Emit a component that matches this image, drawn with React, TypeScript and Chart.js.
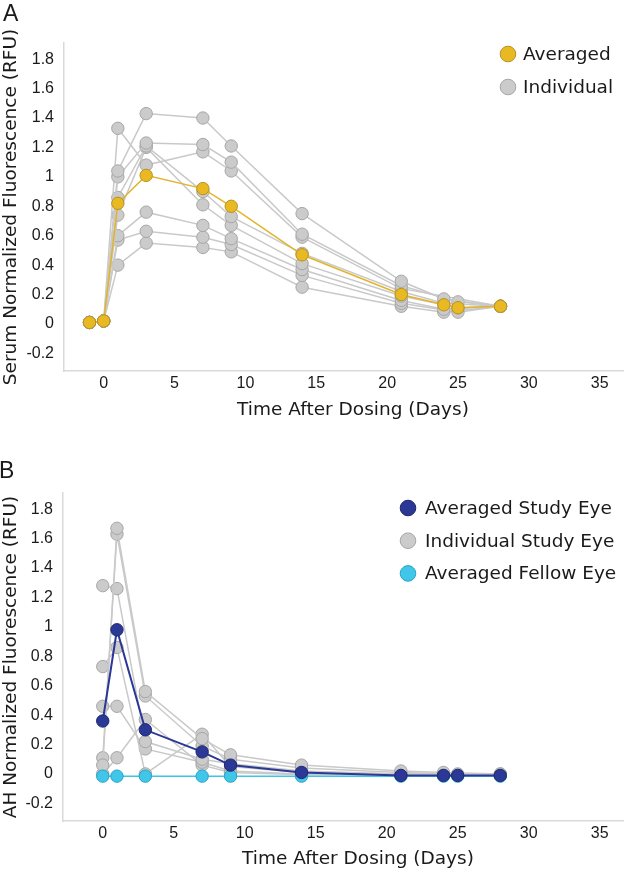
import React, { useEffect, useRef } from 'react';
import { Chart, registerables } from 'chart.js';

Chart.register(...registerables);

// ---------- Panel A: serum ----------
const serumDays = [-1, 0, 1, 3, 7, 9, 14, 21, 24, 25, 28];
const serumAveraged = [0.01, 0.02, 0.82, 1.01, 0.92, 0.8, 0.47, 0.2, 0.13, 0.11, 0.12];
const serumIndividual1 = [0.01, 0.02, 1.04, 1.43, 1.4, 1.21, 0.75, 0.29, 0.17, null, 0.12];
const serumIndividual2 = [0.01, 0.02, 1.0, 1.23, 1.22, 1.1, 0.61, 0.26, null, 0.15, 0.12];
const serumIndividual3 = [0.01, 0.02, 1.33, 1.08, 1.17, 1.04, 0.59, 0.24, null, null, 0.12];
const serumIndividual4 = [0.01, 0.02, 0.86, 1.21, 0.9, 0.73, 0.48, 0.22, 0.14, null, 0.12];
const serumIndividual5 = [0.01, 0.02, 0.74, 1.2, 0.81, 0.67, 0.41, 0.19, null, 0.11, 0.12];
const serumIndividual6 = [0.01, 0.02, 0.6, 0.76, 0.67, 0.58, 0.37, 0.16, 0.1, null, 0.12];
const serumIndividual7 = [0.01, 0.02, 0.57, 0.63, 0.59, 0.54, 0.33, 0.14, null, 0.08, 0.12];
const serumIndividual8 = [0.01, 0.02, 0.4, 0.55, 0.52, 0.49, 0.25, 0.12, 0.08, null, 0.12];
const serumIndividuals = [
  serumIndividual1, serumIndividual2, serumIndividual3, serumIndividual4,
  serumIndividual5, serumIndividual6, serumIndividual7, serumIndividual8,
];

// ---------- Panel B: aqueous humor ----------
const ahDays = [0, 1, 3, 7, 9, 14, 21, 24, 25, 28];
const ahAveragedStudy = [0.36, 0.98, 0.3, 0.15, 0.06, 0.01, -0.01, -0.01, -0.01, -0.01];
const ahAveragedFellow = [-0.015, -0.015, -0.015, -0.015, -0.015, -0.015, -0.015, -0.015, -0.015, -0.015];
const ahIndividual1 = [0.06, 1.67, 0.56, 0.24, 0.13, 0.06, 0.02, 0.01, null, 0.0];
const ahIndividual2 = [0.11, 1.63, 0.53, 0.19, 0.1, 0.04, 0.01, null, 0.0, 0.0];
const ahIndividual3 = [1.28, 1.26, 0.22, 0.1, 0.07, 0.02, 0.0, 0.0, null, -0.005];
const ahIndividual4 = [0.73, 0.86, 0.0, 0.27, 0.05, 0.01, 0.0, null, -0.005, -0.005];
const ahIndividual5 = [0.46, 0.46, 0.17, 0.08, 0.02, 0.0, -0.005, -0.005, null, -0.01];
const ahIndividual6 = [0.0, 0.11, 0.37, 0.06, 0.01, -0.005, -0.005, null, -0.01, -0.01];
const ahIndividuals = [ahIndividual1, ahIndividual2, ahIndividual3, ahIndividual4, ahIndividual5, ahIndividual6];

// ---------- Axes ----------
const xTickValues = [0, 5, 10, 15, 20, 25, 30, 35];
const xTickLabels = ['0', '5', '10', '15', '20', '25', '30', '35'];
const yTickValues = [-0.2, 0, 0.2, 0.4, 0.6, 0.8, 1, 1.2, 1.4, 1.6, 1.8];
const yTickLabels = ['-0.2', '0', '0.2', '0.4', '0.6', '0.8', '1', '1.2', '1.4', '1.6', '1.8'];
const xTitle = 'Time After Dosing (Days)';
const yTitleA = 'Serum Normalized Fluorescence (RFU)';
const yTitleB = 'AH Normalized Fluorescence (RFU)';

const TEXT = '#1a1a1a';
const AXIS = '#d9d9d9';
const TICK_FONT = { family: '"Liberation Sans", Arial, sans-serif', size: 16 };
const TITLE_FONT = { family: '"DejaVu Sans", Verdana, sans-serif', size: 18.5 };
const TITLE_CSS = '18.5px "DejaVu Sans", Verdana, sans-serif';

const toPoints = (days: number[], vals: (number | null)[]) =>
  days.map((d, i) => ({ x: d, y: vals[i] }));

// legend drawn inside the plot area, from the datasets' own labels and colours
const insetLegend = {
  id: 'insetLegend',
  afterDraw(chart: any, _args: any, opts: any) {
    const { ctx } = chart;
    ctx.save();
    (opts.items as number[]).forEach((idx, i) => {
      const ds = chart.data.datasets[idx];
      const cy = opts.y + i * opts.gap;
      ctx.beginPath();
      ctx.arc(opts.x, cy, opts.radius, 0, Math.PI * 2);
      ctx.fillStyle = ds.pointBackgroundColor;
      ctx.fill();
      ctx.lineWidth = 1;
      ctx.strokeStyle = ds.pointBorderColor;
      ctx.stroke();
      ctx.fillStyle = TEXT;
      ctx.font = TITLE_CSS;
      ctx.textBaseline = 'middle';
      ctx.textAlign = 'left';
      ctx.fillText(ds.label, opts.x + opts.textOffset, cy + 1);
    });
    ctx.restore();
  },
};

// x-axis title, placed a little right of the plot-area centre as in the original figure
const xAxisTitle = {
  id: 'xAxisTitle',
  afterDraw(chart: any, _args: any, opts: any) {
    const { ctx } = chart;
    ctx.save();
    ctx.fillStyle = TEXT;
    ctx.font = TITLE_CSS;
    ctx.textAlign = 'center';
    ctx.textBaseline = 'middle';
    ctx.fillText(opts.text, opts.x, opts.y);
    ctx.restore();
  },
};

const series = (label: string, pts: any, line: string, fill: string, border: string, width = 1.5) => ({
  label,
  data: pts,
  showLine: true,
  spanGaps: true,
  borderColor: line,
  backgroundColor: fill,
  borderWidth: width,
  pointRadius: 6.2,
  pointHoverRadius: 6.2,
  pointBorderWidth: 1,
  pointBackgroundColor: fill,
  pointBorderColor: border,
});

function makeOptions(p: {
  yTitle: string; padTop: number; yWidth: number; xHeight: number; legend: any; xTitleX: number; xTitleY: number;
}) {
  return {
    responsive: false,
    animation: false as const,
    devicePixelRatio: 1,
    layout: { padding: { top: p.padTop, right: 3, left: 0, bottom: 0 } },
    plugins: {
      legend: { display: false },
      tooltip: { enabled: false },
      insetLegend: p.legend,
      xAxisTitle: { text: xTitle, x: p.xTitleX, y: p.xTitleY },
    },
    scales: {
      x: {
        type: 'linear' as const,
        min: -2.8,
        max: 36.7,
        grid: { display: false, drawTicks: false },
        border: { display: true, color: AXIS, width: 1.5 },
        afterBuildTicks: (s: any) => { s.ticks = xTickValues.map((v) => ({ value: v })); },
        afterFit: (s: any) => { s.height = p.xHeight; },
        ticks: { font: TICK_FONT, color: TEXT, padding: 3, maxRotation: 0, callback: (_v: any, i: number) => xTickLabels[i] },
        title: { display: false },
      },
      y: {
        type: 'linear' as const,
        min: -0.32,
        max: 1.91,
        grid: { display: false, drawTicks: false },
        border: { display: true, color: AXIS, width: 1.5 },
        afterBuildTicks: (s: any) => { s.ticks = yTickValues.map((v) => ({ value: v })); },
        afterFit: (s: any) => { s.width = p.yWidth; },
        ticks: { font: TICK_FONT, color: TEXT, padding: 10, callback: (_v: any, i: number) => yTickLabels[i] },
        title: { display: true, text: p.yTitle, font: TITLE_FONT, color: TEXT, padding: { top: 0, bottom: 0 } },
      },
    },
  };
}

function PanelChart({ top, height, build }: { top: number; height: number; build: (c: HTMLCanvasElement) => Chart }) {
  const ref = useRef<HTMLCanvasElement>(null);
  useEffect(() => {
    if (!ref.current) return;
    const chart = build(ref.current);
    return () => chart.destroy();
  }, []);
  return (
    <canvas
      ref={ref}
      width={631}
      height={height}
      style={{ position: 'absolute', left: 0, top, width: 631, height }}
    />
  );
}

const buildA = (canvas: HTMLCanvasElement) =>
  new Chart(canvas, {
    type: 'scatter',
    data: {
      datasets: [
        series('Averaged', toPoints(serumDays, serumAveraged), '#e3b42a', '#e8b923', '#b8921c'),
        ...serumIndividuals.map((vals) =>
          series('Individual', toPoints(serumDays, vals), '#c9c9c9', '#cbcbcb', '#a6a6a6')
        ),
      ],
    },
    options: makeOptions({
      yTitle: yTitleA, padTop: 43, yWidth: 64, xHeight: 59, xTitleX: 353, xTitleY: 410,
      legend: { items: [0, 1], x: 508, y: 54, gap: 33, radius: 7.8, textOffset: 15 },
    }) as any,
    plugins: [insetLegend, xAxisTitle],
  });

const buildB = (canvas: HTMLCanvasElement) =>
  new Chart(canvas, {
    type: 'scatter',
    data: {
      datasets: [
        series('Averaged Study Eye', toPoints(ahDays, ahAveragedStudy), '#2b3896', '#2b3896', '#1e2870', 2),
        series('Averaged Fellow Eye', toPoints(ahDays, ahAveragedFellow), '#3fc3e6', '#3fc6e8', '#2aa3c6'),
        ...ahIndividuals.map((vals) =>
          series('Individual Study Eye', toPoints(ahDays, vals), '#c9c9c9', '#cbcbcb', '#a6a6a6')
        ),
      ],
    },
    options: makeOptions({
      yTitle: yTitleB, padTop: 63, yWidth: 63, xHeight: 49, xTitleX: 358, xTitleY: 429,
      legend: { items: [0, 2, 1], x: 408, y: 78, gap: 32.7, radius: 7.8, textOffset: 17 },
    }) as any,
    plugins: [insetLegend, xAxisTitle],
  });

const panelLabel: React.CSSProperties = {
  position: 'absolute',
  font: '23px "Liberation Sans", Arial, sans-serif',
  lineHeight: 1,
  color: '#1a1a1a',
};

export default function App() {
  return (
    <div style={{ position: 'absolute', left: 0, top: 0, width: 631, height: 870, background: '#fff' }}>
      <PanelChart top={0} height={430} build={buildA} />
      <PanelChart top={430} height={440} build={buildB} />
      <div style={{ ...panelLabel, left: 3, top: 2 }}>A</div>
      <div style={{ ...panelLabel, left: -1, top: 459 }}>B</div>
    </div>
  );
}
